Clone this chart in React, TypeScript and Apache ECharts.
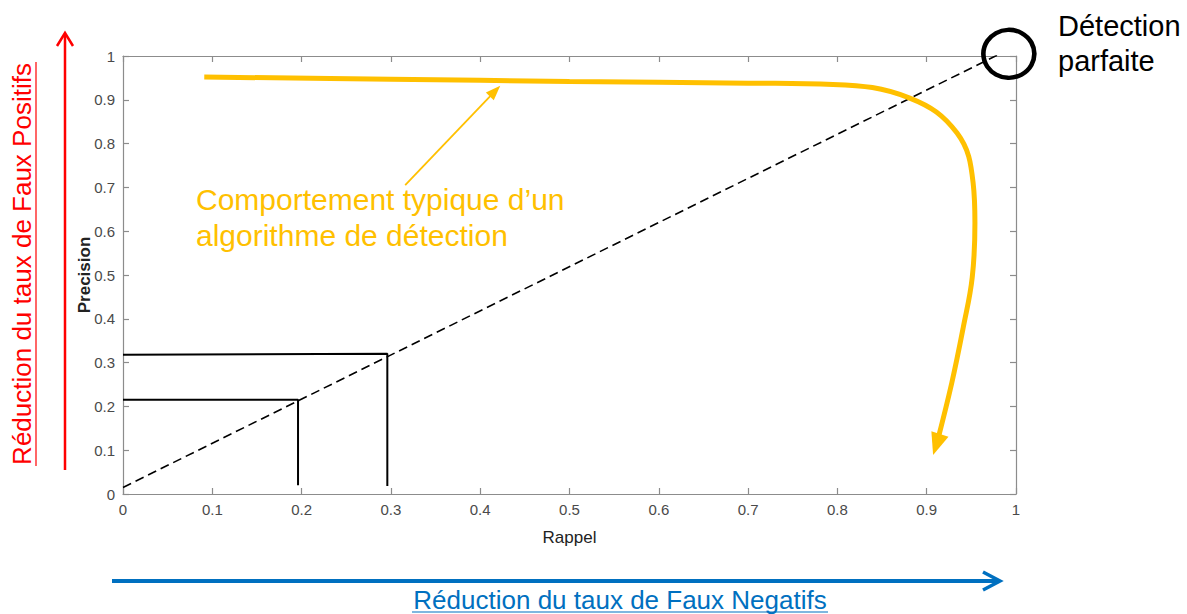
import React, { useEffect, useRef } from 'react';
import * as echarts from 'echarts';

// ---- data ----
const diagonal: [number, number][] = [[0, 0.015], [0.993, 1.016]];
const lRecall20: [number, number][] = [[0, 0.215], [0.196, 0.215], [0.196, 0.02]];
const lRecall30: [number, number][] = [[0, 0.318], [0.296, 0.32], [0.296, 0.018]];
const curveRecall = [0.091, 0.30, 0.50, 0.70, 0.795, 0.881, 0.934, 0.952, 0.954, 0.951, 0.941, 0.928, 0.911];
const curvePrecision = [0.952, 0.947, 0.942, 0.938, 0.935, 0.904, 0.824, 0.710, 0.619, 0.495, 0.381, 0.253, 0.113];
const pointerFrom: [number, number] = [0.316, 0.705];
const pointerTo: [number, number] = [0.4166, 0.92];
const perfectPoint: [number, number] = [0.992, 1.005];

const xName = 'Rappel';
const yName = 'Precision';
const annotation = ['Comportement typique d\u2019un', 'algorithme de détection'];
const perfectLabel = ['Détection', 'parfaite'];
const fpLabel = 'Réduction du taux de Faux Positifs';
const fnLabel = 'Réduction du taux de Faux Negatifs';

const FONT = '"Liberation Sans", Arial, Helvetica, sans-serif';
const YELLOW = '#FFC000';
const AXIS_GRAY = '#8c8c8c';
const LABEL_GRAY = '#4a4a4a';

export default function App() {
  const ref = useRef<HTMLDivElement>(null);

  useEffect(() => {
    document.body.style.margin = '0';
    if (!ref.current) return;
    const chart = echarts.init(ref.current, null, { renderer: 'svg' });

    const axisCommon = {
      type: 'value' as const,
      min: 0,
      max: 1,
      interval: 0.1,
      splitLine: { show: false },
      axisLine: { show: true, onZero: false, lineStyle: { color: AXIS_GRAY, width: 1.2 } },
      axisTick: { show: true, inside: true, length: 6, lineStyle: { color: AXIS_GRAY, width: 1.2 } },
    };

    const curveData: any[] = curveRecall.map((x, i) => [x, curvePrecision[i]]);
    const last = curveData.length - 1;
    curveData[last] = { value: curveData[last], symbol: 'triangle', symbolSize: [18, 22], symbolRotate: 162 };

    chart.setOption({
      animation: false,
      grid: { left: 123, right: 171, top: 56, bottom: 120, outerBoundsMode: 'none' },
      xAxis: [
        {
          ...axisCommon,
          position: 'bottom',
          name: xName,
          nameLocation: 'middle',
          nameGap: 35,
          nameMoveOverlap: false,
          nameTextStyle: { color: '#222', fontSize: 17, fontFamily: FONT },
          axisLabel: { color: LABEL_GRAY, fontSize: 15, fontFamily: FONT, margin: 8 },
        },
        {
          ...axisCommon,
          position: 'top',
          axisLabel: { show: false },
        },
      ],
      yAxis: [
        {
          ...axisCommon,
          position: 'left',
          name: yName,
          nameLocation: 'middle',
          nameRotate: 90,
          nameGap: 30,
          nameMoveOverlap: false,
          nameTextStyle: { color: '#222', fontSize: 17, fontWeight: 'bold', fontFamily: FONT },
          axisLabel: { color: LABEL_GRAY, fontSize: 15, fontFamily: FONT, margin: 8 },
        },
        {
          ...axisCommon,
          position: 'right',
          axisLabel: { show: false },
        },
      ],
      series: [
        {
          type: 'line',
          data: diagonal,
          symbol: 'none',
          lineStyle: { color: '#000', width: 1.6, type: [9, 5] },
          silent: true,
        },
        {
          type: 'line',
          data: lRecall20,
          symbol: 'none',
          lineStyle: { color: '#000', width: 2 },
          silent: true,
        },
        {
          type: 'line',
          data: lRecall30,
          symbol: 'none',
          lineStyle: { color: '#000', width: 2 },
          silent: true,
        },
        {
          type: 'line',
          data: curveData,
          smooth: 0.4,
          symbol: 'none',
          showSymbol: true,
          clip: false,
          itemStyle: { color: YELLOW },
          lineStyle: { color: YELLOW, width: 5 },
          silent: true,
        },
        {
          type: 'line',
          data: [pointerFrom, { value: pointerTo, symbol: 'triangle', symbolSize: [11, 15], symbolRotate: -44 }],
          symbol: 'none',
          showSymbol: true,
          itemStyle: { color: YELLOW },
          lineStyle: { color: YELLOW, width: 1.8 },
          silent: true,
        },
        {
          type: 'scatter',
          data: [perfectPoint],
          symbol: 'circle',
          symbolSize: [51, 48],
          clip: false,
          itemStyle: { color: 'rgba(0,0,0,0)', borderColor: '#000', borderWidth: 4.5, opacity: 1 },
          silent: true,
        },
      ],
      graphic: [
        // yellow annotation text
        { type: 'text', x: 196, y: 199, style: { text: annotation[0], fill: YELLOW, fontSize: 30, fontFamily: FONT, align: 'left', verticalAlign: 'middle' } },
        { type: 'text', x: 196, y: 235, style: { text: annotation[1], fill: YELLOW, fontSize: 30, fontFamily: FONT, align: 'left', verticalAlign: 'middle' } },
        // perfect detection label
        { type: 'text', x: 1058, y: 26, style: { text: perfectLabel[0], fill: '#000', fontSize: 29, fontFamily: FONT, align: 'left', verticalAlign: 'middle' } },
        { type: 'text', x: 1058, y: 61, style: { text: perfectLabel[1], fill: '#000', fontSize: 29, fontFamily: FONT, align: 'left', verticalAlign: 'middle' } },
        // red vertical arrow
        { type: 'line', shape: { x1: 65, y1: 470, x2: 65, y2: 34 }, style: { stroke: '#ff0000', lineWidth: 2.5 } },
        { type: 'polyline', shape: { points: [[57, 46], [65, 33], [73, 46]] }, style: { stroke: '#ff0000', lineWidth: 2.5, fill: null } },
        { type: 'text', x: 22, y: 264, rotation: Math.PI / 2, style: { text: fpLabel, fill: '#ff0000', fontSize: 26, fontFamily: FONT, align: 'center', verticalAlign: 'middle' } },
        { type: 'line', shape: { x1: 36, y1: 62, x2: 36, y2: 466 }, style: { stroke: '#ff0000', lineWidth: 1.2 } },
        // blue horizontal arrow
        { type: 'line', shape: { x1: 112, y1: 581, x2: 998, y2: 581 }, style: { stroke: '#0070c0', lineWidth: 4 } },
        { type: 'polyline', shape: { points: [[983, 572], [1000, 581], [983, 590]] }, style: { stroke: '#0070c0', lineWidth: 3.5, fill: null } },
        { type: 'text', x: 620, y: 600, style: { text: fnLabel, fill: '#0070c0', fontSize: 26, fontFamily: FONT, align: 'center', verticalAlign: 'middle' } },
        { type: 'line', shape: { x1: 412, y1: 612, x2: 828, y2: 612 }, style: { stroke: '#0070c0', lineWidth: 1.2 } },
      ],
    });

    return () => chart.dispose();
  }, []);

  return <div ref={ref} style={{ width: 1187, height: 614 }} />;
}
